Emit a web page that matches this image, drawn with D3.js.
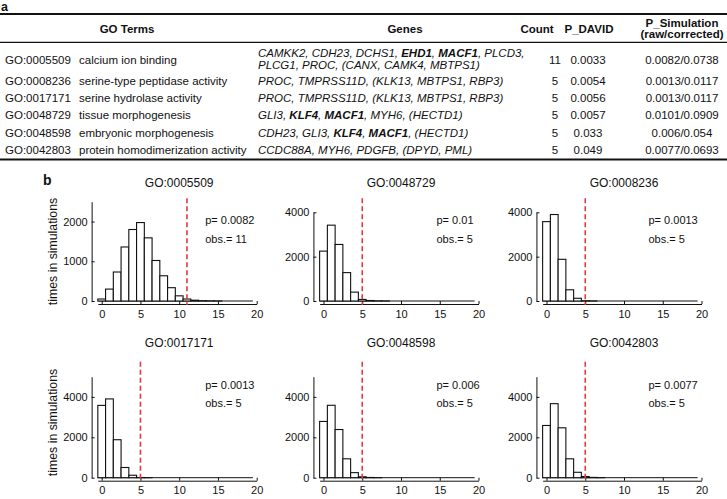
<!DOCTYPE html>
<html><head><meta charset="utf-8">
<script src="https://cdn.jsdelivr.net/npm/d3@7"></script>
<style>
body{margin:0;background:#fff}
svg{display:block}
text{font-family:"Liberation Sans",Arial,sans-serif;fill:#111;white-space:pre}
</style>
</head><body>
<svg id="chart" width="727" height="499"></svg>
<script>
// ---------------- Panel a : table ----------------
const goIds = ["GO:0005509","GO:0008236","GO:0017171","GO:0048729","GO:0048598","GO:0042803"];
const goTerms = ["calcium ion binding","serine-type peptidase activity","serine hydrolase activity",
  "tissue morphogenesis","embryonic morphogenesis","protein homodimerization activity"];
const geneLines = [
  ["CAMKK2, CDH23, DCHS1, EHD1, MACF1, PLCD3,","PLCG1, PROC, (CANX, CAMK4, MBTPS1)"],
  ["PROC, TMPRSS11D, (KLK13, MBTPS1, RBP3)"],
  ["PROC, TMPRSS11D, (KLK13, MBTPS1, RBP3)"],
  ["GLI3, KLF4, MACF1, MYH6, (HECTD1)"],
  ["CDH23, GLI3, KLF4, MACF1, (HECTD1)"],
  ["CCDC88A, MYH6, PDGFB, (DPYD, PML)"]
];
const boldGenes = ["EHD1","MACF1","KLF4"];
const counts = [11,5,5,5,5,5];
const pDavid = ["0.0033","0.0054","0.0056","0.0057","0.033","0.049"];
const pSimulation = ["0.0082/0.0738","0.0013/0.0117","0.0013/0.0117","0.0101/0.0909","0.006/0.054","0.0077/0.0693"];
const headers = ["GO Terms","Genes","Count","P_DAVID"];

// ---------------- Panel b : simulation histograms ----------------
const panelIds = ["GO:0005509","GO:0048729","GO:0008236","GO:0017171","GO:0048598","GO:0042803"];
const pRaw = ["0.0082","0.01","0.0013","0.0013","0.006","0.0077"];
const observed = [11,5,5,5,5,5];
const bins = [0,1,2,3,4,5,6,7,8,9,10,11,12,13,14,15,16,17,18,19];
const sim0005509 = [50,300,730,1360,1800,1975,1590,1020,635,335,130,50,20,8,3,1,0,0,0,0];
const sim0048729 = [2250,3420,2550,1280,400,70,22,6,2,0,0,0,0,0,0,0,0,0,0,0];
const sim0008236 = [3580,3900,1880,505,122,10,3,0,0,0,0,0,0,0,0,0,0,0,0,0];
const sim0017171 = [3580,3900,1880,505,122,10,3,0,0,0,0,0,0,0,0,0,0,0,0,0];
const sim0048598 = [2785,3585,2385,935,250,45,12,3,0,0,0,0,0,0,0,0,0,0,0,0];
const sim0042803 = [2585,3665,2470,935,268,58,15,4,0,0,0,0,0,0,0,0,0,0,0,0];
const simCounts = [sim0005509,sim0048729,sim0008236,sim0017171,sim0048598,sim0042803];
const yLimits = [2500,4000,4000,5000,5000,5000];
const yTickValues = [[0,1000,2000],[0,2000,4000],[0,2000,4000],[0,2000,4000],[0,2000,4000],[0,2000,4000]];
const xTickValues = [0,5,10,15,20];

// ---------------- layout ----------------
const W = 727;
const T = {font:11.5, topLine:14, headLine:42.3, bottomLine:159.5, headBase:33,
  rowBase:[63.5,85,102.2,119.4,136.6,153.8], geneBase1:[57,69],
  xId:5, xTerm:79, xGenes:258, cGenes:405, cTerms:127, cCount:537, cCountV:555,
  cDavidH:589, cDavid:588, cSim:682};
const L = {colX0:[101.7,323.5,546.5], unit:7.75, rowY0:[301,477.7],
  plotH:[99.3,88.7,88.7,101,101,101], yAxisAt:-1.3, redTop:[198.3,361.7],
  titleBase:[187,346.5], pX:[103.5,113,102], pBase:[[224,243],[389,407]], yLabelCY:[251.5,422.5]};

const svg = d3.select("#chart");

// panel labels
svg.append("text").attr("x",1).attr("y",11).attr("font-size",12.5).attr("font-weight","bold").text("a");
svg.append("text").attr("x",43).attr("y",185).attr("font-size",14).attr("font-weight","bold").text("b");

// table rules
[[T.topLine,2],[T.headLine,1.2],[T.bottomLine,2]].forEach(([yy,w])=>{
  svg.append("line").attr("x1",0).attr("x2",W).attr("y1",yy).attr("y2",yy)
    .attr("stroke","#111").attr("stroke-width",w);
});

// headers
const hdr = svg.append("g").attr("font-size",T.font).attr("font-weight","bold").attr("text-anchor","middle");
const hx = [T.cTerms,T.cGenes,T.cCount,T.cDavidH];
headers.forEach((h,i)=>hdr.append("text").attr("x",hx[i]).attr("y",T.headBase).text(h));
hdr.append("text").attr("x",T.cSim).attr("y",26.7).text("P_Simulation");
hdr.append("text").attr("x",T.cSim).attr("y",38.3).text("(raw/corrected)");

function richText(sel, str){
  str.split(/([A-Z][A-Z0-9]+)/).forEach(part=>{
    if(!part) return;
    const ts = sel.append("tspan").text(part);
    if(boldGenes.includes(part)) ts.attr("font-weight","bold");
  });
}

const body = svg.append("g").attr("font-size",T.font);
goIds.forEach((id,i)=>{
  const yb = T.rowBase[i];
  body.append("text").attr("x",T.xId).attr("y",yb).text(id);
  body.append("text").attr("x",T.xTerm).attr("y",yb).text(goTerms[i]);
  geneLines[i].forEach((ln,k)=>{
    const gy = geneLines[i].length>1 ? T.geneBase1[k] : yb;
    const t = body.append("text").attr("x",T.xGenes).attr("y",gy).attr("font-style","italic");
    richText(t, ln);
  });
  body.append("text").attr("x",T.cCountV).attr("y",yb).attr("text-anchor","middle").text(counts[i]);
  body.append("text").attr("x",T.cDavid).attr("y",yb).attr("text-anchor","middle").text(pDavid[i]);
  body.append("text").attr("x",T.cSim).attr("y",yb).attr("text-anchor","middle").text(pSimulation[i]);
});

// histograms
panelIds.forEach((pid,i)=>{
  const col = i%3, row = Math.floor(i/3);
  const x0 = L.colX0[col], y0 = L.rowY0[row];
  const x = d3.scaleLinear().domain([0,20]).range([x0, x0+20*L.unit]);
  const y = d3.scaleLinear().domain([0,yLimits[i]]).range([y0, y0-L.plotH[i]]);
  const g = svg.append("g");
  const data = simCounts[i];

  // baseline for empty bins
  g.append("line").attr("x1",x(bins[0]-0.5)).attr("x2",x(bins[bins.length-1]+0.5))
    .attr("y1",y(0)).attr("y2",y(0)).attr("stroke","#111").attr("stroke-width",1);
  g.selectAll("rect.bar").data(data.map((v,j)=>({b:bins[j],v})).filter(d=>d.v>0)).join("rect")
    .attr("class","bar")
    .attr("x",d=>x(d.b-0.5)).attr("width",x(1)-x(0))
    .attr("y",d=>y(d.v)).attr("height",d=>y(0)-y(d.v))
    .attr("fill","#fff").attr("stroke","#111").attr("stroke-width",1.1);

  // y axis
  const ya = g.append("g").attr("transform",`translate(${x(L.yAxisAt)},0)`)
    .call(d3.axisLeft(y).tickValues(yTickValues[i]).tickSize(-3).tickSizeOuter(0).tickPadding(4).tickFormat(d3.format("d")));
  // x axis
  const xa = d3.scaleLinear().domain([-0.5,20]).range([x(-0.5),x(20)]);
  const xg = g.append("g").attr("transform",`translate(0,${y0+3})`)
    .call(d3.axisBottom(xa).tickValues(xTickValues).tickSize(-3).tickSizeOuter(0).tickPadding(6));
  [ya,xg].forEach(a=>{a.selectAll("text").attr("font-size",11).attr("font-family","Liberation Sans, Arial, sans-serif").attr("fill","#111");
    a.selectAll("path,line").attr("stroke","#111");});

  // observed value line
  g.append("line").attr("x1",x(observed[i])).attr("x2",x(observed[i]))
    .attr("y1",L.redTop[row]).attr("y2",y0+4)
    .attr("stroke","#e5393f").attr("stroke-width",1.6).attr("stroke-dasharray","5,3");

  // title & annotations
  g.append("text").attr("x",x(10)).attr("y",L.titleBase[row]).attr("text-anchor","middle")
    .attr("font-size",12).text(pid);
  g.append("text").attr("x",x0+L.pX[col]).attr("y",L.pBase[row][0]).attr("font-size",11).text("p= "+pRaw[i]);
  g.append("text").attr("x",x0+L.pX[col]).attr("y",L.pBase[row][1]).attr("font-size",11).text("obs.= "+observed[i]);

  if(col===0){
    g.append("text").attr("transform",`translate(57,${L.yLabelCY[row]}) rotate(-90)`)
      .attr("text-anchor","middle").attr("font-size",12.3).text("times in simulations");
  }
});
</script>
</body></html>
